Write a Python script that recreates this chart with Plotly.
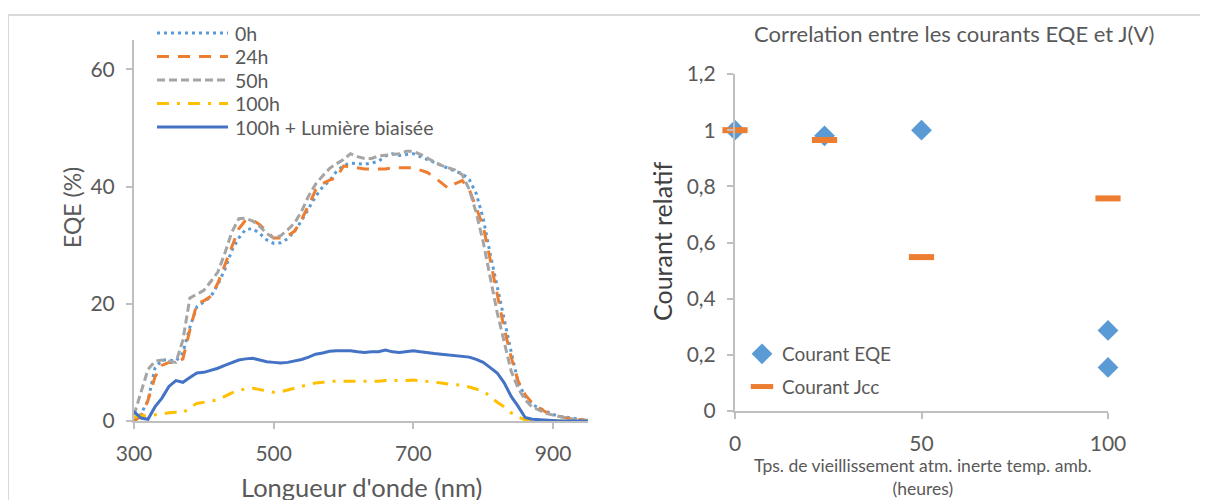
import plotly.graph_objects as go

# --- EQE spectra (left chart) ---
wavelength = list(range(300, 951, 10))

eqe_0h = [0, 1.2, 3.5, 9, 10.4, 10.4, 10.2, 11.6, 16, 19.5,
          20.3, 21.2, 23.3, 25.8, 29.1, 31.2, 32.7, 32.8, 32, 30.9,
          30.3, 30.4, 31.1, 32.4, 34.2, 36.2, 38.3, 39.9, 41, 42.6,
          43.6, 44, 43.9, 43.8, 44, 44.3, 45.2, 45.6, 45.3, 45.4,
          45.6, 45.1, 44.6, 44, 43.5, 43.1, 42.6, 42.2, 41.2, 38.8,
          34.5, 28.5, 22.8, 17, 11.8, 6.6, 4.2, 2.8, 2.2, 1.6,
          1.1, 0.8, 0.6, 0.4, 0.2, 0.1]
eqe_24h = [0, 0.8, 3.5, 7.5, 9.5, 10, 10, 10.6, 15.5, 20,
           20.5, 21.3, 23.5, 26.6, 30, 32.8, 34.3, 34.3, 33.5, 32.4,
           31.2, 31.2, 31.6, 32.4, 34.4, 36.8, 39.4, 40.5, 41.1, 41.5,
           43.5, 43.4, 43.2, 43, 43, 43, 43, 43.2, 43.2, 43.2,
           43.2, 42.8, 42.4, 41.6, 40.6, 39.7, 40.5, 41, 39.5, 36.5,
           33.2, 27.5, 21.8, 15.8, 10.9, 6.8, 4.5, 3.1, 2.2, 1.5,
           1, 0.7, 0.5, 0.3, 0.2, 0.1]
eqe_50h = [1, 5, 8.8, 10.2, 10.4, 10.2, 10, 13.8, 21, 21.6,
           22.3, 23.8, 25.4, 28.6, 32.2, 34.5, 34.6, 34.1, 33.2, 32,
           31.2, 31.6, 32.6, 33.8, 35.8, 38.4, 40.4, 41.8, 43.1, 43.9,
           44.6, 45.6, 45.1, 44.8, 44.8, 45.2, 45.3, 45.5, 45.6, 46,
           46, 45.5, 44.8, 44.2, 43.6, 43.2, 42.8, 42, 39.5, 35.5,
           30.5, 24.5, 18.5, 13.5, 8.5, 5.6, 3.6, 2.4, 1.8, 1.3,
           1, 0.7, 0.5, 0.3, 0.2, 0.1]
eqe_100h = [0.7, 0.9, 0.9, 1, 1.2, 1.4, 1.5, 1.4, 2.3, 3,
            3.2, 3.3, 3.6, 4.2, 4.8, 5.2, 5.5, 5.6, 5.4, 5.1,
            4.9, 5, 5.3, 5.6, 6, 6.3, 6.5, 6.6, 6.8, 6.8,
            6.8, 6.8, 6.8, 6.7, 6.7, 6.8, 6.9, 6.9, 6.8, 6.9,
            7, 6.9, 6.8, 6.6, 6.5, 6.3, 6.2, 6.1, 5.8, 5.5,
            5.1, 4.2, 3.2, 2.4, 1.4, 0.7, 0.2, 0.1, 0, 0,
            0, 0, 0, 0, 0, 0]
eqe_100h_bias = [1.6, 0.5, 0.3, 2.4, 3.9, 5.9, 6.9, 6.6, 7.4, 8.2,
                 8.3, 8.6, 9, 9.5, 10, 10.4, 10.6, 10.7, 10.4, 10.1,
                 10, 9.9, 10, 10.2, 10.5, 10.9, 11.4, 11.6, 11.9, 12,
                 12, 12, 11.8, 11.7, 11.8, 11.8, 12.1, 11.8, 11.7, 11.8,
                 12, 11.8, 11.6, 11.5, 11.4, 11.3, 11.2, 11, 10.9, 10.5,
                 10, 9.1, 8.2, 6.5, 4.2, 2.5, 0.6, 0.3, 0.2, 0.1,
                 0.1, 0, 0, 0, 0, 0]

# --- relative currents (right chart) ---
hours_eqe = [0, 24, 50, 100, 100]
courant_eqe = [1.0, 0.98, 1.0, 0.287, 0.155]
hours_jcc = [0, 24, 50, 100]
courant_jcc = [1.0, 0.965, 0.548, 0.757]

W, H = 1208, 500
PAGE_OFF = 8  # the html body margin shifts the figure by 8px
GREY_TXT = "#595959"
AXIS_COL = "#BFBFBF"
FONT = "Lato"


def px_x(p):
    return (p - PAGE_OFF) / W


def px_y(p):
    return 1 - (p - PAGE_OFF) / H


def note(text, x, y, size, color=GREY_TXT, angle=0, xanchor="center"):
    return dict(text=text, x=px_x(x), y=px_y(y), xref="paper", yref="paper",
                showarrow=False, textangle=angle, xanchor=xanchor,
                yanchor="middle", font=dict(family=FONT, size=size, color=color))


fig = go.Figure()

series = [
    ("0h", eqe_0h, "#5B9BD5", "3px,4px", 3),
    ("24h", eqe_24h, "#ED7D31", "12px,9px", 3),
    ("50h", eqe_50h, "#A5A5A5", "8px,4px", 3),
    ("100h", eqe_100h, "#FFC000", "12px,8px,3px,8px", 3),
    ("100h + Lumière biaisée", eqe_100h_bias, "#4472C4", "solid", 3),
]
shapes = [dict(type="rect", xref="paper", yref="paper",
               x0=px_x(8), x1=1.02, y0=-0.05, y1=px_y(15),
               line=dict(color="#D9D9D9", width=2))]
annotations = []
# Excel-style legend for the left chart: long sample lines beside the labels
for i, (name, vals, col, dash, lw) in enumerate(series):
    fig.add_trace(go.Scatter(
        x=wavelength, y=vals, name=name, mode="lines",
        line=dict(color=col, dash=dash, width=lw),
        xaxis="x", yaxis="y", showlegend=False))
    row_y = 33 + i * 23.5
    shapes.append(dict(type="line", xref="paper", yref="paper",
                       x0=px_x(157), x1=px_x(228), y0=px_y(row_y), y1=px_y(row_y),
                       line=dict(color=col, dash=dash, width=lw)))
    annotations.append(note(name, 233, row_y, 19.5, xanchor="left"))

fig.add_trace(go.Scatter(
    x=hours_eqe, y=courant_eqe, name="Courant EQE", mode="markers",
    marker=dict(symbol="diamond", size=16, color="#5B9BD5"),
    xaxis="x2", yaxis="y2", legendgroup="eqe", cliponaxis=False))
fig.add_trace(go.Scatter(
    x=hours_jcc, y=courant_jcc, name="Courant Jcc", mode="markers",
    marker=dict(symbol="line-ew", size=18,
                line=dict(color="#ED7D31", width=6)),
    xaxis="x2", yaxis="y2", legendgroup="jcc", cliponaxis=False))

axis_common = dict(showgrid=False, zeroline=False, showline=True,
                   linecolor=AXIS_COL, linewidth=2, ticks="outside",
                   tickcolor=AXIS_COL, ticklen=6, tickwidth=1.5,
                   automargin=False, ticklabelstandoff=7,
                   tickfont=dict(family=FONT, size=21, color=GREY_TXT))

annotations += [
    note("EQE (%)", 72, 208, 23, angle=-90),
    note("Longueur d'onde (nm)", 361, 487, 25.5),
    note("Correlation entre les courants EQE et J(V)", 954, 33, 22),
    note("Courant relatif", 662, 242, 25, color="#404040", angle=-90),
    note("Tps. de vieillissement atm. inerte temp. amb.<br>(heures)", 923, 477, 17.5),
]

fig.update_layout(
    width=W, height=H,
    margin=dict(l=0, r=0, t=0, b=0, autoexpand=False),
    paper_bgcolor="white", plot_bgcolor="white",
    separators=", ",
    font=dict(family=FONT, color=GREY_TXT),
    xaxis=dict(domain=[px_x(134), px_x(588)], range=[300, 950],
               tickvals=[300, 500, 700, 900], anchor="y", **axis_common),
    yaxis=dict(domain=[px_y(421), px_y(40)], range=[0, 65],
               tickvals=[0, 20, 40, 60], anchor="x", **axis_common),
    xaxis2=dict(domain=[px_x(735), px_x(1108)], range=[0, 100],
                dtick=50, anchor="y2", **axis_common),
    yaxis2=dict(domain=[px_y(411), px_y(74)], range=[0, 1.2],
                dtick=0.2, anchor="x2", **axis_common),
    legend=dict(x=px_x(742), y=px_y(335), xanchor="left", yanchor="top",
                bgcolor="rgba(0,0,0,0)", tracegroupgap=5,
                font=dict(family=FONT, size=19, color=GREY_TXT)),
    shapes=shapes,
    annotations=annotations,
)

fig.write_html("out.html")
